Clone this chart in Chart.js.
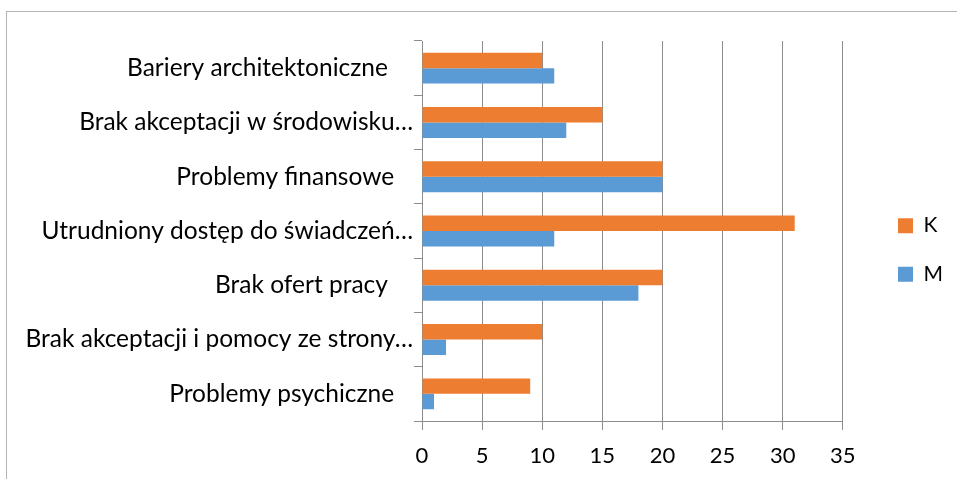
<!DOCTYPE html>
<html>
<head>
<meta charset="utf-8">
<script src="https://cdn.jsdelivr.net/npm/chart.js@4/dist/chart.umd.min.js"></script>
<style>
  html, body { margin: 0; padding: 0; background: #fff; overflow: hidden; }
  #wrap { position: relative; width: 957px; height: 479px; }
  #frame { position: absolute; left: 6px; top: 11px; width: 1000px; height: 1000px; border: 1.5px solid #b4b4b4; box-sizing: border-box; }
  canvas { position: absolute; left: 0; top: 0; }
</style>
</head>
<body>
<div id="wrap">
  <div id="frame"></div>
  <canvas id="c" width="957" height="479"></canvas>
</div>
<script>
const categories = [
  'Bariery architektoniczne    ',
  'Brak akceptacji w środowisku…',
  'Problemy finansowe   ',
  'Utrudniony dostęp do świadczeń…',
  'Brak ofert pracy    ',
  'Brak akceptacji i pomocy ze strony…',
  'Problemy psychiczne   '
];
const seriesK = [10, 15, 20, 31, 20, 10, 9];
const seriesM = [11, 12, 20, 11, 18, 2, 1];
const xTicks = [0, 5, 10, 15, 20, 25, 30, 35];

const FONT = 'Lato';
const GRID = '#8c8c8c';

// Shift the legend block to the reference's spot to the right of the plot.
const legendShift = {
  id: 'legendShift',
  afterLayout(chart) {
    const lg = chart.legend;
    if (!lg) return;
    const dx = 898 - (lg.left + lg.options.labels.padding);
    lg.left += dx; lg.right += dx;
    lg.top -= 10; lg.bottom -= 10;
  }
};

new Chart(document.getElementById('c'), {
  type: 'bar',
  data: {
    labels: categories,
    datasets: [
      { label: 'K', data: seriesK, backgroundColor: '#ED7D31', borderWidth: 0 },
      { label: 'M', data: seriesM, backgroundColor: '#5B9BD5', borderWidth: 0 }
    ]
  },
  plugins: [legendShift],
  options: {
    indexAxis: 'y',
    responsive: false,
    animation: false,
    devicePixelRatio: 1,
    datasets: { bar: { categoryPercentage: 0.57, barPercentage: 1.0 } },
    layout: { padding: { left: 0, top: 41, right: 31.5, bottom: 0 } },
    plugins: {
      tooltip: { enabled: false },
      legend: {
        position: 'right',
        labels: {
          boxWidth: 15, boxHeight: 15, padding: 27.7,
          color: '#000',
          font: { family: FONT, size: 21 }
        }
      }
    },
    scales: {
      x: {
        min: 0, max: 35,
        afterBuildTicks: (s) => { s.ticks = xTicks.map(v => ({ value: v })); },
        afterFit: (s) => { s.height = 58; },
        ticks: { color: '#000', font: { family: FONT, size: 22 }, padding: 13 },
        grid: { color: GRID, lineWidth: 1, tickLength: 9 },
        border: { color: GRID, width: 1 }
      },
      y: {
        afterFit: (s) => { s.width = 422; },
        ticks: { color: '#000', font: { family: FONT, size: 24.5 }, padding: 1, autoSkip: false },
        grid: { drawOnChartArea: false, color: GRID, tickLength: 8, offset: true },
        border: { color: GRID, width: 1 }
      }
    }
  }
});
</script>
</body>
</html>
